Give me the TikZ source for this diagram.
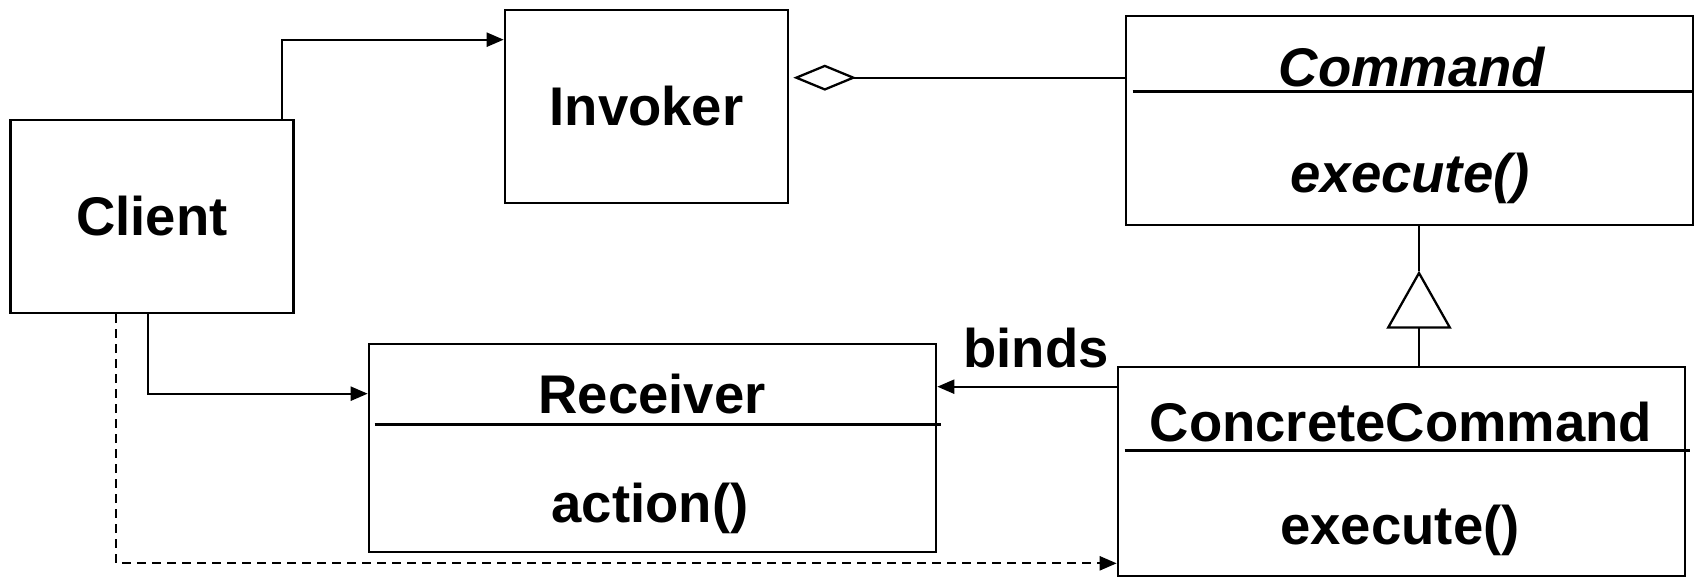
\documentclass[tikz,border=0pt]{standalone}
\usepackage{fontspec}
\setmainfont{Liberation Sans}
\usetikzlibrary{arrows.meta,positioning,calc}
\definecolor{UInk}{HTML}{000000}

\begin{document}
\begin{tikzpicture}[
    every node/.style={font=\fontsize{15.5}{18}\selectfont\bfseries,text=UInk},
    umlbox/.style={rectangle,draw=UInk,line width=0.75pt,inner sep=0pt},
    smallbox/.style={umlbox,minimum width=2.83cm,minimum height=1.93cm},
    widebox/.style={umlbox,minimum width=5.67cm,minimum height=2.09cm},
    sepline/.style={draw=UInk,line width=0.7pt},
    assoc/.style={draw=UInk,line width=0.65pt,-{Triangle[length=1.7mm,width=1.4mm]}},
    depend/.style={assoc,dash pattern=on 0.9mm off 0.6mm},
    aggr/.style={draw=UInk,line width=0.65pt,{Diamond[open,length=6.3mm,width=2.6mm]}-},
    inherit/.style={draw=UInk,line width=0.65pt,-{Triangle[open,length=5.8mm,width=6.5mm]}}
  ]
  \useasboundingbox (0,0) rectangle (16.94,5.77);

  % classes
  \node[smallbox] (client) at (1.52,3.605) {Client};
  \node[smallbox] (invoker) at (6.465,4.705) {Invoker};
  \node[widebox] (cmd) at (14.095,4.565) {};
  \node[widebox,minimum height=2.08cm] (receiver) at (6.525,1.29) {};
  \node[widebox] (cc) at (14.015,1.055) {};

  \node (cmdname) at (14.12,5.10) {\itshape Command};
  \node (cmdop) at (14.10,3.99) {\itshape execute()};
  \node (recname) at (6.52,1.83) {Receiver};
  \node (recop) at (6.50,0.69) {action()};
  \node (ccname) at (14.01,1.55) {ConcreteCommand};
  \node (ccop) at (14.00,0.47) {execute()};

  \draw[sepline] ([xshift=0.08cm,yshift=-0.77cm]cmd.north west) -- ([yshift=-0.77cm]cmd.north east);
  \draw[sepline] ([xshift=0.07cm,yshift=-0.82cm]receiver.north west) -- ([xshift=0.04cm,yshift=-0.82cm]receiver.north east);
  \draw[sepline] ([xshift=0.08cm,yshift=-0.85cm]cc.north west) -- ([xshift=0.04cm,yshift=-0.85cm]cc.north east);

  % relations
  \draw[assoc] ([xshift=-0.13cm]client.north east) |- ([yshift=-0.31cm]invoker.north west);
  \draw[assoc] ([xshift=-0.04cm]client.south) |- ([yshift=-0.51cm]receiver.north west);
  \draw[depend] ([xshift=-0.36cm]client.south) |- ([yshift=0.14cm]cc.south west);

  \coordinate (aggrfrom) at ([xshift=0.04cm,yshift=-0.69cm]invoker.north east);
  \draw[aggr] (aggrfrom) -- (aggrfrom -| cmd.west);

  \coordinate (bindsfrom) at ([yshift=-0.21cm]cc.north west);
  \draw[assoc] (bindsfrom) -- (bindsfrom -| receiver.east);
  \node (binds) at (10.36,2.29) {binds};

  \draw[inherit] ([xshift=0.175cm]cc.north) -- ++(0,0.95) coordinate (apex);
  \draw[draw=UInk,line width=0.65pt] (apex) -- (apex |- cmd.south);
\end{tikzpicture}
\end{document}
